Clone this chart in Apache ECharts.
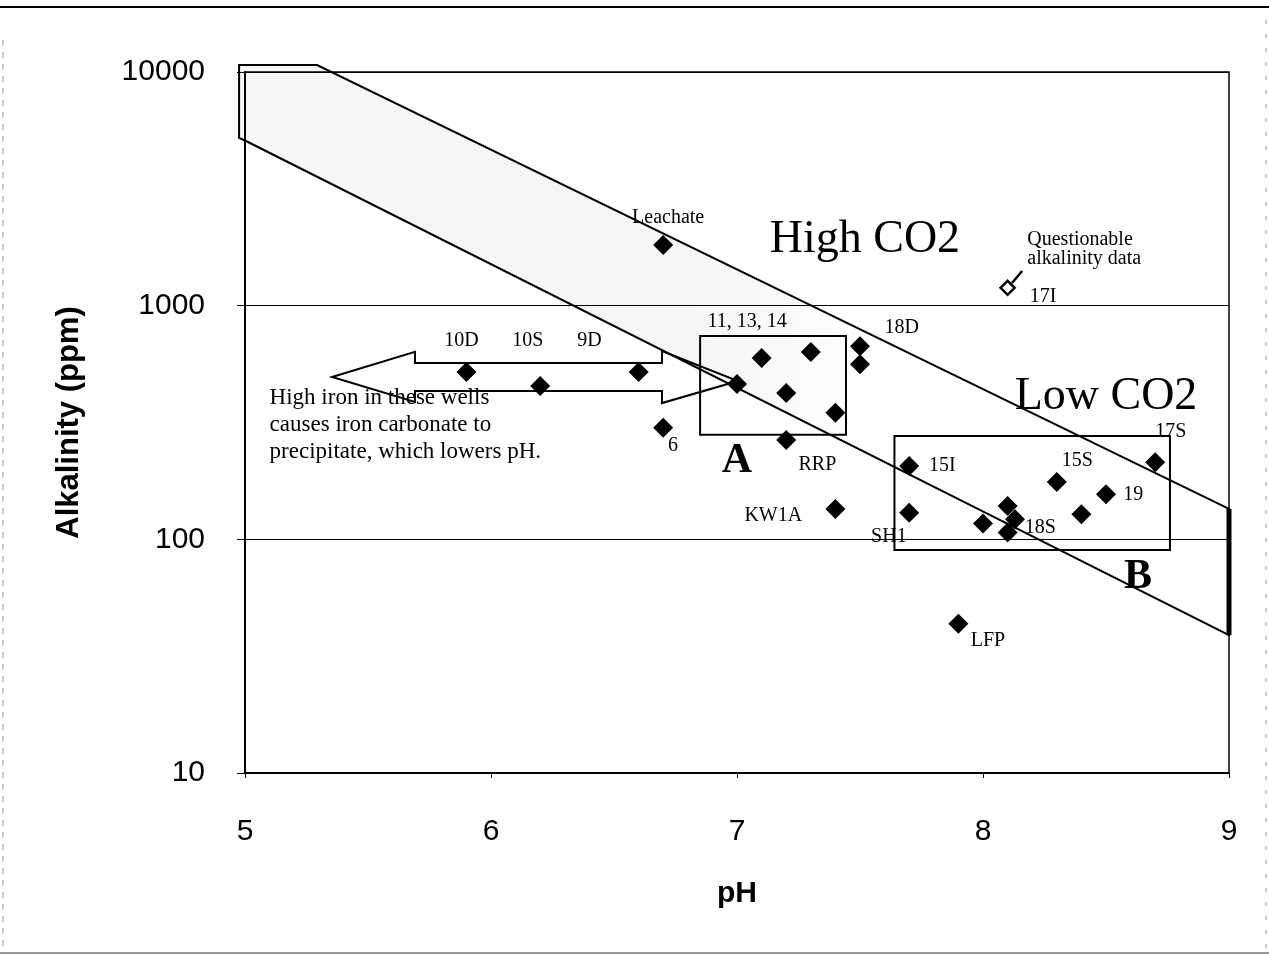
<!DOCTYPE html>
<html><head><meta charset="utf-8">
<script src="https://cdn.jsdelivr.net/npm/echarts@6/dist/echarts.min.js"></script>
<style>html,body{margin:0;padding:0;background:#fff}#c{width:1269px;height:955px}</style>
</head><body><div id="c"></div>
<script>
// ---- data ----
const xTicks = [5, 6, 7, 8, 9];
const yTicks = [10, 100, 1000, 10000];
const wellPH  = [6.7, 5.9, 6.2, 6.6, 6.7, 7.0, 7.1, 7.3, 7.2, 7.4, 7.5, 7.5, 7.2, 7.4, 7.7, 7.7, 8.0, 8.1, 8.13, 8.1, 8.3, 8.4, 8.5, 8.7, 7.9];
const wellAlk = [1820, 520, 453, 520, 300, 462, 597, 634, 423, 348, 671, 562, 266, 135, 206, 130, 117, 139, 122, 107, 176, 128, 156, 214, 43.5];
const questionablePH = [8.1];
const questionableAlk = [1192];
const pointerPH = [8.118, 8.159];
const pointerAlk = [1250, 1407];
// CO2 band outline
const bandPH  = [4.976, 5.293, 9, 9, 5.012, 4.976];
const bandAlk = [10714, 10714, 135, 38.9, 5016, 5220];
// boxes A and B
const boxAPH = [6.85, 7.443], boxAAlk = [280, 741];
const boxBPH = [7.64, 8.76],  boxBAlk = [90, 277];
// arrow annotation
const arrowPH  = [5.354, 5.691, 5.691, 6.695, 6.695, 7.004, 6.695, 6.695, 5.691, 5.691];
const arrowAlk = [495, 634, 568, 568, 640, 476, 383, 431, 431, 387];
// text annotations
const labelText = ['Leachate', 'High CO2', 'Questionable\nalkalinity data', '17I', '10D', '10S', '9D', '11, 13, 14', '18D',
  'High iron in these wells\ncauses iron carbonate to\nprecipitate, which lowers pH.', '6', 'A', 'RRP', '15I', 'Low CO2', '17S', '15S', '19',
  'KW1A', 'SH1', '18S', 'B', 'LFP'];
const labelPH  = [6.72, 7.52, 8.18, 8.19, 5.88, 6.15, 6.40, 6.88, 7.60, 5.10, 6.72, 7.0, 7.25, 7.78, 8.5, 8.70, 8.32, 8.57, 7.03, 7.545, 8.17, 8.63, 7.95];
const labelAlk = [2370, 1910, 1750, 1090, 706, 706, 706, 851, 802, 309, 251, 216, 208, 206, 406, 288, 216, 155, 126, 103, 112, 69, 36.7];
const labelKind = ['smallc', 'big', 'quest', 'small', 'smallc', 'smallc', 'smallc', 'small', 'small', 'note', 'small', 'letter', 'small', 'small', 'big', 'small', 'small', 'small', 'small', 'small', 'small', 'letter', 'small'];

const kindStyle = {
  small:  {fontSize: 20, align: 'left', fontWeight: 'normal', lineHeight: 20},
  smallc: {fontSize: 20, align: 'center', fontWeight: 'normal', lineHeight: 20},
  quest:  {fontSize: 20, align: 'left', fontWeight: 'normal', lineHeight: 19},
  note:   {fontSize: 23, align: 'left', fontWeight: 'normal', lineHeight: 27},
  big:    {fontSize: 46, align: 'center', fontWeight: 'normal', lineHeight: 46},
  letter: {fontSize: 42, align: 'center', fontWeight: 'bold', lineHeight: 42}
};
const serif = '"Liberation Serif", "Times New Roman", serif';
const sans = '"Liberation Sans", Arial, sans-serif';

function polySeries(xs, ys, style, z) {
  return {
    type: 'custom', clip: false, z: z, silent: true,
    data: [[xs[0], ys[0]]],
    renderItem: function (params, api) {
      return {type: 'polygon', shape: {points: xs.map((x, i) => api.coord([x, ys[i]]))}, style: style};
    }
  };
}
function boxSeries(xr, yr, z) {
  return polySeries([xr[0], xr[1], xr[1], xr[0]], [yr[0], yr[0], yr[1], yr[1]],
    {fill: 'none', stroke: '#000', lineWidth: 2}, z);
}

const chart = echarts.init(document.getElementById('c'), null, {renderer: 'canvas'});
chart.setOption({
  animation: false,
  backgroundColor: '#fff',
  grid: {left: 245, right: 40, top: 72, bottom: 182, show: true, borderColor: '#000', borderWidth: 1.5, backgroundColor: 'transparent'},
  xAxis: {
    type: 'value', min: xTicks[0], max: xTicks[xTicks.length - 1], interval: 1,
    name: 'pH', nameLocation: 'middle', nameGap: 106,
    nameTextStyle: {fontFamily: sans, fontSize: 30, fontWeight: 'bold', color: '#000'},
    axisLine: {show: true, lineStyle: {color: '#000', width: 2}},
    axisTick: {show: true, length: 5, lineStyle: {color: '#000'}},
    axisLabel: {margin: 44, fontFamily: sans, fontSize: 30, color: '#000'},
    splitLine: {show: false}
  },
  yAxis: {
    type: 'log', logBase: 10, min: yTicks[0], max: yTicks[yTicks.length - 1],
    name: 'Alkalinity (ppm)', nameLocation: 'middle', nameGap: 160, nameRotate: 90,
    nameTextStyle: {fontFamily: sans, fontSize: 31, fontWeight: 'bold', color: '#000'},
    axisLine: {show: true, lineStyle: {color: '#000', width: 2}},
    axisTick: {show: true, length: 8, lineStyle: {color: '#000'}},
    axisLabel: {margin: 40, fontFamily: sans, fontSize: 30, color: '#000', formatter: function (v) { return String(Math.round(v)); }},
    splitLine: {show: true, lineStyle: {color: '#000', width: 1}},
    minorTick: {show: false}
  },
  graphic: [
    {type: 'line', shape: {x1: 0, y1: 7, x2: 1269, y2: 7}, style: {stroke: '#000', lineWidth: 2}},
    {type: 'line', shape: {x1: 0, y1: 953, x2: 1269, y2: 953}, style: {stroke: '#777', lineWidth: 1.5}},
    {type: 'line', shape: {x1: 3, y1: 40, x2: 3, y2: 953}, style: {stroke: '#999', lineWidth: 1, lineDash: [6, 6]}},
    {type: 'line', shape: {x1: 1266, y1: 20, x2: 1266, y2: 953}, style: {stroke: '#999', lineWidth: 1, lineDash: [4, 10]}}
  ],
  series: [
    polySeries(bandPH, bandAlk, {
      fill: {type: 'linear', x: 0, y: 0, x2: 1, y2: 0, colorStops: [
        {offset: 0, color: 'rgba(0,0,0,0.035)'}, {offset: 0.45, color: 'rgba(0,0,0,0.04)'}, {offset: 0.65, color: 'rgba(0,0,0,0.0)'}, {offset: 1, color: 'rgba(0,0,0,0)'}]},
      stroke: '#000', lineWidth: 2
    }, 1),
    {
      type: 'custom', clip: false, z: 2, silent: true,
      data: [[bandPH[2], bandAlk[2]]],
      renderItem: function (params, api) {
        const a = api.coord([bandPH[2], bandAlk[2]]), b = api.coord([bandPH[3], bandAlk[3]]);
        return {type: 'line', shape: {x1: a[0], y1: a[1], x2: b[0], y2: b[1]}, style: {stroke: '#000', lineWidth: 5}};
      }
    },
    boxSeries(boxAPH, boxAAlk, 3),
    boxSeries(boxBPH, boxBAlk, 3),
    polySeries(arrowPH, arrowAlk, {fill: 'none', stroke: '#000', lineWidth: 2}, 3),
    {
      type: 'custom', clip: false, z: 4, silent: true,
      data: [[pointerPH[0], pointerAlk[0]]],
      renderItem: function (params, api) {
        const a = api.coord([pointerPH[0], pointerAlk[0]]), b = api.coord([pointerPH[1], pointerAlk[1]]);
        return {type: 'line', shape: {x1: a[0], y1: a[1], x2: b[0], y2: b[1]}, style: {stroke: '#000', lineWidth: 2.5}};
      }
    },
    {
      type: 'scatter', z: 5, symbol: 'diamond', symbolSize: 20,
      itemStyle: {color: '#000', opacity: 1},
      data: wellPH.map((x, i) => [x, wellAlk[i]])
    },
    {
      type: 'scatter', z: 5, symbol: 'diamond', symbolSize: 14,
      itemStyle: {color: '#fff', borderColor: '#000', borderWidth: 2.5, opacity: 1},
      data: questionablePH.map((x, i) => [x, questionableAlk[i]])
    },
    {
      type: 'custom', clip: false, z: 6, silent: true,
      data: labelPH.map((x, i) => [x, labelAlk[i]]),
      renderItem: function (params, api) {
        const i = params.dataIndex;
        const p = api.coord([labelPH[i], labelAlk[i]]);
        const k = kindStyle[labelKind[i]];
        return {type: 'text', x: p[0], y: p[1], style: {
          text: labelText[i], fontFamily: serif, fontSize: k.fontSize, fontWeight: k.fontWeight,
          lineHeight: k.lineHeight, align: k.align, verticalAlign: 'middle', fill: '#000'
        }};
      }
    }
  ]
});
</script></body></html>
